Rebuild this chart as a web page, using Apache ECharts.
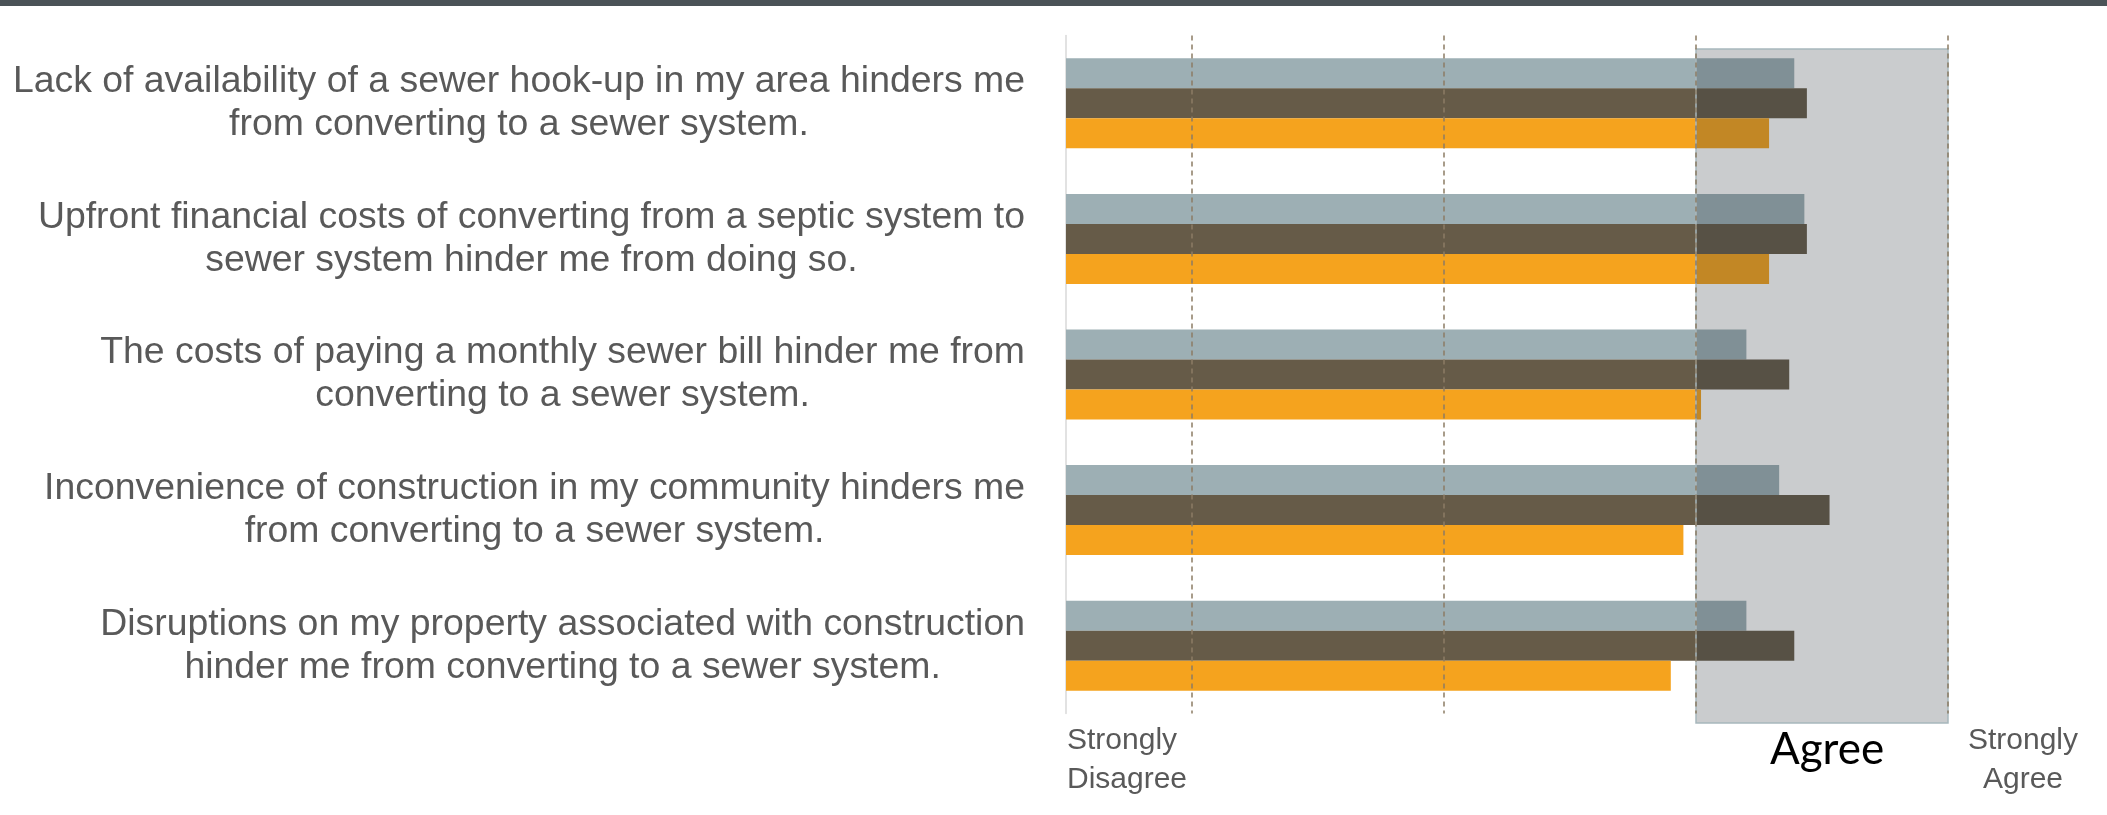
<!DOCTYPE html>
<html>
<head>
<meta charset="utf-8">
<script src="https://cdn.jsdelivr.net/npm/echarts@6/dist/echarts.min.js"></script>
<style>
html, body { margin: 0; padding: 0; background: #fff; }
#sewerChart { width: 2107px; height: 815px; }
</style>
</head>
<body>
<div id="sewerChart"></div>
<script>
// barriers to converting from septic to sewer - mean agreement per group
var statements = [
    'Lack of availability of a sewer hook-up in my area hinders me\nfrom converting to a sewer system.',
    'Upfront financial costs of converting from a septic system to\nsewer system hinder me from doing so.',
    'The costs of paying a monthly sewer bill hinder me from\nconverting to a sewer system.',
    'Inconvenience of construction in my community hinders me\nfrom converting to a sewer system.',
    'Disruptions on my property associated with construction\nhinder me from converting to a sewer system.'
];
var groupGray   = [3.39, 3.43, 3.20, 3.33, 3.20];
var groupBrown  = [3.44, 3.44, 3.37, 3.53, 3.39];
var groupOrange = [3.29, 3.29, 3.02, 2.95, 2.90];
var scaleMarks = [1, 2, 3, 4];
var agreeBand = [3, 4];
var lowLabel = 'Strongly\nDisagree';
var bandLabel = 'Agree';
var highLabel = 'Strongly\nAgree';

var sewerChart = echarts.init(document.getElementById('sewerChart'));

var sewerOption = {
    animation: false,
    grid: [
        { left: 1066, right: 159, top: 35.5, bottom: 101.5 },
        { left: 1066, right: 159, top: 49, bottom: 92 }
    ],
    xAxis: [
        {
            type: 'value', min: 0.5, max: 4,
            axisLine: { show: false }, axisTick: { show: false },
            axisLabel: { show: false }, splitLine: { show: false }
        },
        {
            type: 'value', gridIndex: 1, min: 0.5, max: 4,
            axisLine: { show: false }, axisTick: { show: false },
            axisLabel: { show: false }, splitLine: { show: false }
        }
    ],
    yAxis: [
        {
            type: 'category',
            inverse: true,
            data: statements,
            axisLine: { show: true, lineStyle: { color: '#D9D9D9', width: 1.5 } },
            axisTick: { show: false },
            axisLabel: {
                margin: 41,
                formatter: function (v) {
                    return v.split('\n').map(function (l) { return '{t|' + l + '}'; }).join('\n');
                },
                rich: {
                    t: {
                        align: 'center',
                        fontSize: 37.4,
                        lineHeight: 43,
                        color: '#595959',
                        fontFamily: '"Liberation Sans", Arial, sans-serif'
                    }
                }
            }
        },
        { type: 'value', gridIndex: 1, show: false }
    ],
    series: [
        {
            name: 'Gray',
            type: 'bar',
            barWidth: 30,
            barGap: '0%',
            itemStyle: { color: '#9DAFB4' },
            data: groupGray,
            markLine: {
                silent: true,
                symbol: 'none',
                label: { show: false },
                lineStyle: { color: '#8C7C64', width: 1.5, type: [5, 4] },
                data: scaleMarks.map(function (v) { return { xAxis: v }; })
            }
        },
        {
            name: 'Brown',
            type: 'bar',
            barWidth: 30,
            barGap: '0%',
            itemStyle: { color: '#665B48' },
            data: groupBrown
        },
        {
            name: 'Orange',
            type: 'bar',
            barWidth: 30,
            barGap: '0%',
            itemStyle: { color: '#F5A31E' },
            data: groupOrange
        },
        {
            name: 'band',
            type: 'line',
            xAxisIndex: 1,
            yAxisIndex: 1,
            data: [],
            markArea: {
                silent: true,
                z: 3,
                itemStyle: {
                    color: 'rgba(45,52,60,0.25)',
                    borderColor: '#A8B8BD',
                    borderWidth: 1.5
                },
                data: [[{ xAxis: agreeBand[0] }, { xAxis: agreeBand[1] }]]
            }
        }
    ],
    graphic: [
        {
            type: 'rect', left: 0, top: 0, z: 10,
            shape: { width: 2107, height: 6 },
            style: { fill: '#4B5357' }
        },
        {
            type: 'text', x: 1067, y: 721,
            style: {
                text: lowLabel, font: '30px "Liberation Sans"', lineHeight: 39,
                fill: '#595959', textAlign: 'left', textVerticalAlign: 'top'
            }
        },
        {
            type: 'text', x: 1827, y: 750,
            style: {
                text: bandLabel, font: '44px Lato', fill: '#000000',
                textAlign: 'center', textVerticalAlign: 'middle'
            }
        },
        {
            type: 'text', x: 2023, y: 721,
            style: {
                text: highLabel, font: '30px "Liberation Sans"', lineHeight: 39,
                fill: '#595959', textAlign: 'center', textVerticalAlign: 'top'
            }
        }
    ]
};
sewerChart.setOption(sewerOption);
</script>
</body>
</html>
